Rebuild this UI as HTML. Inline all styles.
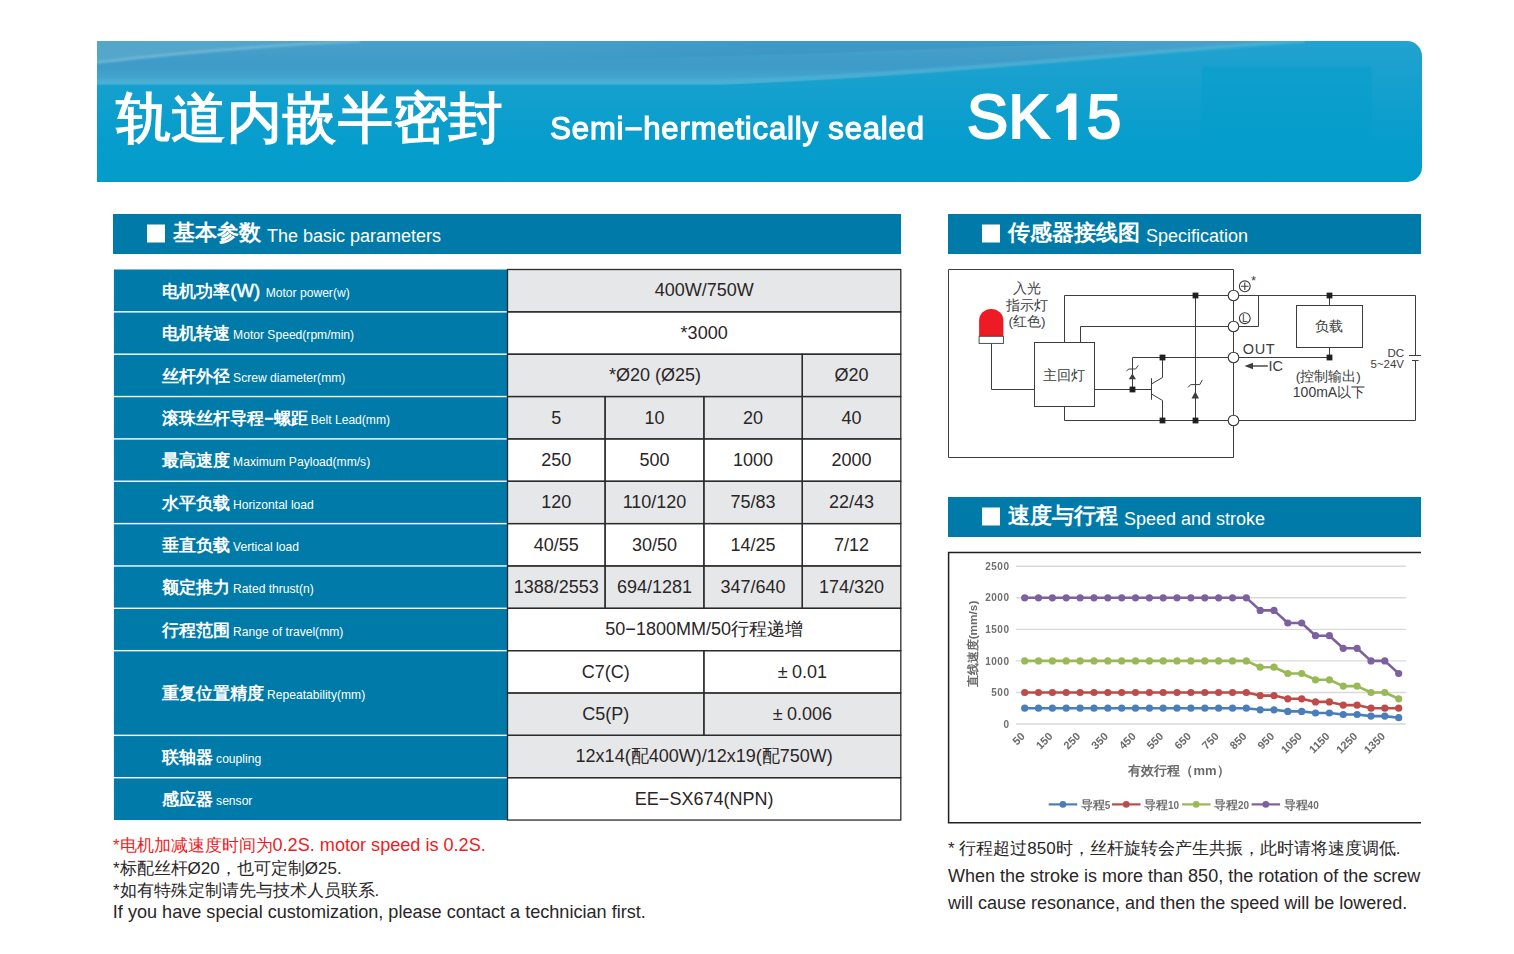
<!DOCTYPE html>
<html><head><meta charset="utf-8">
<style>
*{margin:0;padding:0}
html,body{width:1514px;height:954px;background:#fff;overflow:hidden}
body{position:relative;font-family:"Liberation Sans",sans-serif}
svg text{font-family:"Liberation Sans",sans-serif}
</style></head><body>
<svg width="1514" height="954" viewBox="0 0 1514 954" style="position:absolute;left:0;top:0">
<defs>
<linearGradient id="bg1" x1="0" y1="0" x2="0" y2="1">
<stop offset="0" stop-color="#1aa3cf"/><stop offset="0.4" stop-color="#079dcc"/><stop offset="1" stop-color="#019bcb"/>
</linearGradient>
<linearGradient id="band" x1="0" y1="0" x2="1" y2="0">
<stop offset="0" stop-color="#4fa6cb"/><stop offset="0.5" stop-color="#48a3ca"/><stop offset="1" stop-color="#3fa7cf"/>
</linearGradient>
<clipPath id="bclip"><path d="M97 41 H1407 A15 15 0 0 1 1422 56 V167 A15 15 0 0 1 1407 182 H97 Z"/></clipPath>
</defs>
<defs><linearGradient id="mg" x1="0" y1="41" x2="0" y2="182" gradientUnits="userSpaceOnUse"><stop offset="0" stop-color="#22a2cf"/><stop offset="0.35" stop-color="#14a0ce"/><stop offset="0.7" stop-color="#069dcc"/><stop offset="1" stop-color="#029ccb"/></linearGradient>
<linearGradient id="bd" x1="0" y1="41" x2="0" y2="84.5" gradientUnits="userSpaceOnUse"><stop offset="0" stop-color="#49a1c9"/><stop offset="0.45" stop-color="#3f9bc8"/><stop offset="0.65" stop-color="#3e9cc9"/><stop offset="0.8" stop-color="#43a3cd"/><stop offset="1" stop-color="#48acd3"/></linearGradient></defs>
<g clip-path="url(#bclip)">
<rect x="97" y="41" width="1325" height="141" fill="url(#mg)"/>
<path d="M97 41 H1305 C1150 52 950 76 720 84.5 L97 84.5 Z" fill="url(#bd)"/>
<defs><linearGradient id="dk" x1="500" y1="0" x2="1140" y2="0" gradientUnits="userSpaceOnUse"><stop offset="0" stop-color="#3894c4" stop-opacity="0"/><stop offset="0.4" stop-color="#3894c4" stop-opacity="0.6"/><stop offset="1" stop-color="#3894c4" stop-opacity="0.6"/></linearGradient></defs>
<path d="M500 41 H1140 C1000 46 850 53 700 57 C620 59 560 60 500 60 Z" fill="url(#dk)"/>
<defs><linearGradient id="tri" x1="97" y1="0" x2="360" y2="0" gradientUnits="userSpaceOnUse"><stop offset="0" stop-color="#55a7ca" stop-opacity="1"/><stop offset="0.7" stop-color="#55a7ca" stop-opacity="0.8"/><stop offset="1" stop-color="#55a7ca" stop-opacity="0.3"/></linearGradient>
<filter id="sb" x="-5%" y="-50%" width="110%" height="200%"><feGaussianBlur stdDeviation="0.8"/></filter></defs>
<path d="M97 41 H360 C270 46 180 53 97 63 Z" fill="url(#tri)"/>
<path d="M97 62.5 C180 52.5 270 45.5 360 41" fill="none" stroke="#74bbd9" stroke-width="2.6" opacity="0.8" filter="url(#sb)"/>
<path d="M97 82 H720 C950 73.5 1150 50 1305 41" fill="none" stroke="#4cb1d6" stroke-width="4" opacity="0.85" filter="url(#sb)"/>
<rect x="1201.5" y="66.5" width="170" height="91" rx="3" fill="#039dcc" opacity="0.5"/>
</g>
<rect x="113" y="214" width="788" height="40" fill="#007ba9"/>
<rect x="147" y="224.5" width="18" height="18" fill="#fff"/>
<text x="173" y="240.2" fill="#fff" font-size="22" font-weight="bold">基本参数<tspan font-weight="normal" font-size="18" dx="6" dy="1.4">The basic parameters</tspan></text>
<rect x="948" y="214" width="473" height="40" fill="#007ba9"/>
<rect x="982" y="224.5" width="18" height="18" fill="#fff"/>
<text x="1008" y="240.2" fill="#fff" font-size="22" font-weight="bold">传感器接线图<tspan font-weight="normal" font-size="18" dx="6" dy="1.4">Specification</tspan></text>
<rect x="948" y="497" width="473" height="40" fill="#007ba9"/>
<rect x="982" y="507.5" width="18" height="18" fill="#fff"/>
<text x="1008" y="523.2" fill="#fff" font-size="22" font-weight="bold">速度与行程<tspan font-weight="normal" font-size="18" dx="6" dy="1.4">Speed and stroke</tspan></text>
<rect x="113.9" y="269.50" width="393.60" height="41.65" fill="#007ba9"/>
<text x="162.3" y="296.88" fill="#fff" font-size="16.5" font-weight="bold">电机功率<tspan font-size="18.5" font-weight="normal" stroke="#fff" stroke-width="0.55">(W)</tspan><tspan font-weight="normal" font-size="12.1" dx="5.6">Motor power(w)</tspan></text>
<rect x="113.9" y="312.55" width="393.60" height="40.95" fill="#007ba9"/>
<text x="162.3" y="339.22" fill="#fff" font-size="16.5" font-weight="bold">电机转速<tspan font-weight="normal" font-size="12.1" dx="2.8">Motor Speed(rpm/min)</tspan></text>
<rect x="113.9" y="354.90" width="393.60" height="40.95" fill="#007ba9"/>
<text x="162.3" y="381.57" fill="#fff" font-size="16.5" font-weight="bold">丝杆外径<tspan font-weight="normal" font-size="12.1" dx="2.8">Screw diameter(mm)</tspan></text>
<rect x="113.9" y="397.25" width="393.60" height="40.95" fill="#007ba9"/>
<text x="162.3" y="423.93" fill="#fff" font-size="16.5" font-weight="bold">滚珠丝杆导程−螺距<tspan font-weight="normal" font-size="12.1" dx="2.8">Belt Lead(mm)</tspan></text>
<rect x="113.9" y="439.60" width="393.60" height="40.95" fill="#007ba9"/>
<text x="162.3" y="466.27" fill="#fff" font-size="16.5" font-weight="bold">最高速度<tspan font-weight="normal" font-size="12.1" dx="2.8">Maximum Payload(mm/s)</tspan></text>
<rect x="113.9" y="481.95" width="393.60" height="40.95" fill="#007ba9"/>
<text x="162.3" y="508.62" fill="#fff" font-size="16.5" font-weight="bold">水平负载<tspan font-weight="normal" font-size="12.1" dx="2.8">Horizontal load</tspan></text>
<rect x="113.9" y="524.30" width="393.60" height="40.95" fill="#007ba9"/>
<text x="162.3" y="550.98" fill="#fff" font-size="16.5" font-weight="bold">垂直负载<tspan font-weight="normal" font-size="12.1" dx="2.8">Vertical load</tspan></text>
<rect x="113.9" y="566.65" width="393.60" height="40.95" fill="#007ba9"/>
<text x="162.3" y="593.33" fill="#fff" font-size="16.5" font-weight="bold">额定推力<tspan font-weight="normal" font-size="12.1" dx="2.8">Rated thrust(n)</tspan></text>
<rect x="113.9" y="609.00" width="393.60" height="40.95" fill="#007ba9"/>
<text x="162.3" y="635.68" fill="#fff" font-size="16.5" font-weight="bold">行程范围<tspan font-weight="normal" font-size="12.1" dx="2.8">Range of travel(mm)</tspan></text>
<rect x="113.9" y="651.35" width="393.60" height="83.30" fill="#007ba9"/>
<text x="162.3" y="699.20" fill="#fff" font-size="16.5" font-weight="bold">重复位置精度<tspan font-weight="normal" font-size="12.1" dx="2.8">Repeatability(mm)</tspan></text>
<rect x="113.9" y="736.05" width="393.60" height="40.95" fill="#007ba9"/>
<text x="162.3" y="762.73" fill="#fff" font-size="16.5" font-weight="bold">联轴器<tspan font-weight="normal" font-size="12.1" dx="2.8">coupling</tspan></text>
<rect x="113.9" y="778.40" width="393.60" height="41.65" fill="#007ba9"/>
<text x="162.3" y="805.08" fill="#fff" font-size="16.5" font-weight="bold">感应器<tspan font-weight="normal" font-size="12.1" dx="2.8">sensor</tspan></text>
<rect x="507.50" y="269.50" width="393.30" height="42.35" fill="#e6e7e8"/>
<rect x="507.50" y="311.85" width="393.30" height="42.35" fill="#ffffff"/>
<rect x="507.50" y="354.20" width="294.80" height="42.35" fill="#e6e7e8"/>
<rect x="802.30" y="354.20" width="98.50" height="42.35" fill="#e6e7e8"/>
<rect x="507.50" y="396.55" width="97.60" height="42.35" fill="#e6e7e8"/>
<rect x="605.10" y="396.55" width="98.80" height="42.35" fill="#e6e7e8"/>
<rect x="703.90" y="396.55" width="98.40" height="42.35" fill="#e6e7e8"/>
<rect x="802.30" y="396.55" width="98.50" height="42.35" fill="#e6e7e8"/>
<rect x="507.50" y="438.90" width="97.60" height="42.35" fill="#ffffff"/>
<rect x="605.10" y="438.90" width="98.80" height="42.35" fill="#ffffff"/>
<rect x="703.90" y="438.90" width="98.40" height="42.35" fill="#ffffff"/>
<rect x="802.30" y="438.90" width="98.50" height="42.35" fill="#ffffff"/>
<rect x="507.50" y="481.25" width="97.60" height="42.35" fill="#e6e7e8"/>
<rect x="605.10" y="481.25" width="98.80" height="42.35" fill="#e6e7e8"/>
<rect x="703.90" y="481.25" width="98.40" height="42.35" fill="#e6e7e8"/>
<rect x="802.30" y="481.25" width="98.50" height="42.35" fill="#e6e7e8"/>
<rect x="507.50" y="523.60" width="97.60" height="42.35" fill="#ffffff"/>
<rect x="605.10" y="523.60" width="98.80" height="42.35" fill="#ffffff"/>
<rect x="703.90" y="523.60" width="98.40" height="42.35" fill="#ffffff"/>
<rect x="802.30" y="523.60" width="98.50" height="42.35" fill="#ffffff"/>
<rect x="507.50" y="565.95" width="97.60" height="42.35" fill="#e6e7e8"/>
<rect x="605.10" y="565.95" width="98.80" height="42.35" fill="#e6e7e8"/>
<rect x="703.90" y="565.95" width="98.40" height="42.35" fill="#e6e7e8"/>
<rect x="802.30" y="565.95" width="98.50" height="42.35" fill="#e6e7e8"/>
<rect x="507.50" y="608.30" width="393.30" height="42.35" fill="#ffffff"/>
<rect x="507.50" y="650.65" width="196.40" height="42.35" fill="#ffffff"/>
<rect x="703.90" y="650.65" width="196.90" height="42.35" fill="#ffffff"/>
<rect x="507.50" y="693.00" width="196.40" height="42.35" fill="#e6e7e8"/>
<rect x="703.90" y="693.00" width="196.90" height="42.35" fill="#e6e7e8"/>
<rect x="507.50" y="735.35" width="393.30" height="42.35" fill="#e6e7e8"/>
<rect x="507.50" y="777.70" width="393.30" height="42.35" fill="#ffffff"/>
<rect x="507.50" y="269.50" width="393.30" height="42.35" fill="none" stroke="#2b2b2b" stroke-width="1.3"/>
<text x="704.15" y="296.48" fill="#2a2627" font-size="18" text-anchor="middle">400W/750W</text>
<rect x="507.50" y="311.85" width="393.30" height="42.35" fill="none" stroke="#2b2b2b" stroke-width="1.3"/>
<text x="704.15" y="338.82" fill="#2a2627" font-size="18" text-anchor="middle">*3000</text>
<rect x="507.50" y="354.20" width="294.80" height="42.35" fill="none" stroke="#2b2b2b" stroke-width="1.3"/>
<text x="654.90" y="381.18" fill="#2a2627" font-size="18" text-anchor="middle">*Ø20 (Ø25)</text>
<rect x="802.30" y="354.20" width="98.50" height="42.35" fill="none" stroke="#2b2b2b" stroke-width="1.3"/>
<text x="851.55" y="381.18" fill="#2a2627" font-size="18" text-anchor="middle">Ø20</text>
<rect x="507.50" y="396.55" width="97.60" height="42.35" fill="none" stroke="#2b2b2b" stroke-width="1.3"/>
<text x="556.30" y="423.53" fill="#2a2627" font-size="18" text-anchor="middle">5</text>
<rect x="605.10" y="396.55" width="98.80" height="42.35" fill="none" stroke="#2b2b2b" stroke-width="1.3"/>
<text x="654.50" y="423.53" fill="#2a2627" font-size="18" text-anchor="middle">10</text>
<rect x="703.90" y="396.55" width="98.40" height="42.35" fill="none" stroke="#2b2b2b" stroke-width="1.3"/>
<text x="753.10" y="423.53" fill="#2a2627" font-size="18" text-anchor="middle">20</text>
<rect x="802.30" y="396.55" width="98.50" height="42.35" fill="none" stroke="#2b2b2b" stroke-width="1.3"/>
<text x="851.55" y="423.53" fill="#2a2627" font-size="18" text-anchor="middle">40</text>
<rect x="507.50" y="438.90" width="97.60" height="42.35" fill="none" stroke="#2b2b2b" stroke-width="1.3"/>
<text x="556.30" y="465.88" fill="#2a2627" font-size="18" text-anchor="middle">250</text>
<rect x="605.10" y="438.90" width="98.80" height="42.35" fill="none" stroke="#2b2b2b" stroke-width="1.3"/>
<text x="654.50" y="465.88" fill="#2a2627" font-size="18" text-anchor="middle">500</text>
<rect x="703.90" y="438.90" width="98.40" height="42.35" fill="none" stroke="#2b2b2b" stroke-width="1.3"/>
<text x="753.10" y="465.88" fill="#2a2627" font-size="18" text-anchor="middle">1000</text>
<rect x="802.30" y="438.90" width="98.50" height="42.35" fill="none" stroke="#2b2b2b" stroke-width="1.3"/>
<text x="851.55" y="465.88" fill="#2a2627" font-size="18" text-anchor="middle">2000</text>
<rect x="507.50" y="481.25" width="97.60" height="42.35" fill="none" stroke="#2b2b2b" stroke-width="1.3"/>
<text x="556.30" y="508.23" fill="#2a2627" font-size="18" text-anchor="middle">120</text>
<rect x="605.10" y="481.25" width="98.80" height="42.35" fill="none" stroke="#2b2b2b" stroke-width="1.3"/>
<text x="654.50" y="508.23" fill="#2a2627" font-size="18" text-anchor="middle">110/120</text>
<rect x="703.90" y="481.25" width="98.40" height="42.35" fill="none" stroke="#2b2b2b" stroke-width="1.3"/>
<text x="753.10" y="508.23" fill="#2a2627" font-size="18" text-anchor="middle">75/83</text>
<rect x="802.30" y="481.25" width="98.50" height="42.35" fill="none" stroke="#2b2b2b" stroke-width="1.3"/>
<text x="851.55" y="508.23" fill="#2a2627" font-size="18" text-anchor="middle">22/43</text>
<rect x="507.50" y="523.60" width="97.60" height="42.35" fill="none" stroke="#2b2b2b" stroke-width="1.3"/>
<text x="556.30" y="550.58" fill="#2a2627" font-size="18" text-anchor="middle">40/55</text>
<rect x="605.10" y="523.60" width="98.80" height="42.35" fill="none" stroke="#2b2b2b" stroke-width="1.3"/>
<text x="654.50" y="550.58" fill="#2a2627" font-size="18" text-anchor="middle">30/50</text>
<rect x="703.90" y="523.60" width="98.40" height="42.35" fill="none" stroke="#2b2b2b" stroke-width="1.3"/>
<text x="753.10" y="550.58" fill="#2a2627" font-size="18" text-anchor="middle">14/25</text>
<rect x="802.30" y="523.60" width="98.50" height="42.35" fill="none" stroke="#2b2b2b" stroke-width="1.3"/>
<text x="851.55" y="550.58" fill="#2a2627" font-size="18" text-anchor="middle">7/12</text>
<rect x="507.50" y="565.95" width="97.60" height="42.35" fill="none" stroke="#2b2b2b" stroke-width="1.3"/>
<text x="556.30" y="592.92" fill="#2a2627" font-size="18" text-anchor="middle">1388/2553</text>
<rect x="605.10" y="565.95" width="98.80" height="42.35" fill="none" stroke="#2b2b2b" stroke-width="1.3"/>
<text x="654.50" y="592.92" fill="#2a2627" font-size="18" text-anchor="middle">694/1281</text>
<rect x="703.90" y="565.95" width="98.40" height="42.35" fill="none" stroke="#2b2b2b" stroke-width="1.3"/>
<text x="753.10" y="592.92" fill="#2a2627" font-size="18" text-anchor="middle">347/640</text>
<rect x="802.30" y="565.95" width="98.50" height="42.35" fill="none" stroke="#2b2b2b" stroke-width="1.3"/>
<text x="851.55" y="592.92" fill="#2a2627" font-size="18" text-anchor="middle">174/320</text>
<rect x="507.50" y="608.30" width="393.30" height="42.35" fill="none" stroke="#2b2b2b" stroke-width="1.3"/>
<text x="704.15" y="635.27" fill="#2a2627" font-size="18" text-anchor="middle">50−1800MM/50行程递增</text>
<rect x="507.50" y="650.65" width="196.40" height="42.35" fill="none" stroke="#2b2b2b" stroke-width="1.3"/>
<text x="605.70" y="677.62" fill="#2a2627" font-size="18" text-anchor="middle">C7(C)</text>
<rect x="703.90" y="650.65" width="196.90" height="42.35" fill="none" stroke="#2b2b2b" stroke-width="1.3"/>
<text x="802.35" y="677.62" fill="#2a2627" font-size="18" text-anchor="middle">±<tspan dx="4.4">0.01</tspan></text>
<rect x="507.50" y="693.00" width="196.40" height="42.35" fill="none" stroke="#2b2b2b" stroke-width="1.3"/>
<text x="605.70" y="719.97" fill="#2a2627" font-size="18" text-anchor="middle">C5(P)</text>
<rect x="703.90" y="693.00" width="196.90" height="42.35" fill="none" stroke="#2b2b2b" stroke-width="1.3"/>
<text x="802.35" y="719.97" fill="#2a2627" font-size="18" text-anchor="middle">±<tspan dx="4.4">0.006</tspan></text>
<rect x="507.50" y="735.35" width="393.30" height="42.35" fill="none" stroke="#2b2b2b" stroke-width="1.3"/>
<text x="704.15" y="762.33" fill="#2a2627" font-size="18" text-anchor="middle">12x14(配400W)/12x19(配750W)</text>
<rect x="507.50" y="777.70" width="393.30" height="42.35" fill="none" stroke="#2b2b2b" stroke-width="1.3"/>
<text x="704.15" y="804.67" fill="#2a2627" font-size="18" text-anchor="middle">EE−SX674(NPN)</text>
<text x="113" y="851.4" fill="#ed1c24" font-size="16.8">*电机加减速度时间为<tspan font-size="18.1">0.2S. motor speed is 0.2S.</tspan></text>
<text x="113" y="873.6" fill="#2a2627" font-size="17">*标配丝杆Ø20，也可定制Ø25.</text>
<text x="113" y="895.8" fill="#2a2627" font-size="16.8">*如有特殊定制请先与技术人员联系.</text>
<text x="112.8" y="918.3" fill="#2a2627" font-size="18.1">If you have special customization, please contact a technician first.</text>
<text x="948" y="854.3" fill="#2a2627" font-size="17">* 行程超过850时，丝杆旋转会产生共振，此时请将速度调低.</text>
<text x="948" y="881.8" fill="#2a2627" font-size="18">When the stroke is more than 850, the rotation of the screw</text>
<text x="948" y="909.3" fill="#2a2627" font-size="18">will cause resonance, and then the speed will be lowered.</text>
<g fill="none" stroke="#3d3d3f" stroke-width="1.0">
<path d="M948.5 269.5 H1233.5 V457.5 H948.5 Z"/>
<path d="M991.5 343.4 V389.5 H1034.5"/>
<rect x="1034.5" y="342.5" width="60" height="64"/>
<path d="M1064.5 342.5 V295.5 H1233.5"/>
<path d="M1080.5 342.5 V326.5 H1233.5"/>
<path d="M1064.5 406.5 V420.5 H1233.5"/>
<path d="M1094.5 389.5 H1151.5"/>
<path d="M1132.5 389.5 V357.5 H1233.5"/>
<path d="M1151.5 378.2 V399.7"/>
<path d="M1151.5 384 L1162.5 377.5 V357.5"/>
<path d="M1151.5 394 L1162.5 400.5 V420.5"/>
<path d="M1195.5 295.5 V420.5"/>
<path d="M1233.5 295.5 H1258.5 V326.5 H1233.5"/>
<path d="M1233.5 295.5 H1415.5 V355.2"/>
<path d="M1415.5 360.2 V420.5 H1233.5"/>
<path d="M1409 355.5 H1421"/>
<path d="M1412 360.5 H1418.6"/>
<rect x="1296.5" y="305.5" width="66" height="42"/>
<path d="M1329.5 295.5 V305.5"/>
<path d="M1329.5 347.5 V357.5 H1233.5"/>
<path d="M1126.5 370.9 L1128.9 369 H1135.6 L1138.3 365.3"/>
<path d="M1188.1 387.4 L1190.6 384.6 H1199.8 L1202.3 379.9"/>
</g>
<path d="M1132.4 373.4 L1136 379.2 H1128.8 Z" fill="#3d3d3f"/>
<path d="M1195.3 391.4 L1199.1 398.4 H1191.5 Z" fill="#3d3d3f"/>
<path d="M1250 366 H1267.8" stroke="#3d3d3f" stroke-width="1.4"/>
<path d="M1244.5 366 L1253 362.8 V369.2 Z" fill="#3d3d3f"/>
<rect x="1129.6" y="386.6" width="5.8" height="5.8" fill="#231f20"/>
<rect x="1159.6" y="354.6" width="5.8" height="5.8" fill="#231f20"/>
<rect x="1159.6" y="417.6" width="5.8" height="5.8" fill="#231f20"/>
<rect x="1192.6" y="292.6" width="5.8" height="5.8" fill="#231f20"/>
<rect x="1192.6" y="417.6" width="5.8" height="5.8" fill="#231f20"/>
<rect x="1326.6" y="292.6" width="5.8" height="5.8" fill="#231f20"/>
<rect x="1326.6" y="354.6" width="5.8" height="5.8" fill="#231f20"/>
<circle cx="1233.5" cy="295.5" r="5.3" fill="#fff" stroke="#3d3d3f" stroke-width="1.1"/>
<circle cx="1233.5" cy="326.5" r="5.3" fill="#fff" stroke="#3d3d3f" stroke-width="1.1"/>
<circle cx="1233.5" cy="357.5" r="5.3" fill="#fff" stroke="#3d3d3f" stroke-width="1.1"/>
<circle cx="1233.5" cy="420.5" r="5.3" fill="#fff" stroke="#3d3d3f" stroke-width="1.1"/>
<circle cx="1244.8" cy="286.3" r="5.4" fill="none" stroke="#3d3d3f" stroke-width="1.1"/>
<path d="M1241 286.3 H1248.6 M1244.8 282.5 V290.1" stroke="#3d3d3f" stroke-width="1.1"/>
<circle cx="1244.8" cy="318.2" r="5.4" fill="none" stroke="#3d3d3f" stroke-width="1.1"/>
<text x="1245" y="322" font-size="10.5" fill="#3d3d3f" text-anchor="middle">L</text>
<text x="1253.6" y="284.5" font-size="13" fill="#3d3d3f" text-anchor="middle">*</text>
<path d="M979.1 336.3 V320.5 A12.15 11.5 0 0 1 1003.4 320.5 V336.3 Z" fill="#ed1c24"/>
<rect x="979.1" y="336.3" width="24.3" height="7.1" fill="#fff" stroke="#3d3d3f" stroke-width="0.9"/>
<text x="1027" y="292.5" font-size="13.5" fill="#3c3c3e" text-anchor="middle">入光</text>
<text x="1027" y="309.5" font-size="13.5" fill="#3c3c3e" text-anchor="middle">指示灯</text>
<text x="1027" y="325.8" font-size="13.5" fill="#3c3c3e" text-anchor="middle">(红色)</text>
<text x="1064.2" y="379.5" font-size="13.5" fill="#3c3c3e" text-anchor="middle">主回灯</text>
<text x="1329.4" y="330.8" font-size="13.5" fill="#3c3c3e" text-anchor="middle">负载</text>
<text x="1242.8" y="353.5" font-size="14.5" letter-spacing="0.6" fill="#3c3c3e">OUT</text>
<text x="1268.5" y="371.4" font-size="14.5" fill="#3c3c3e">IC</text>
<text x="1328.3" y="380.8" font-size="13.5" fill="#3c3c3e" text-anchor="middle">(控制输出)</text>
<text x="1329" y="397.3" font-size="14" fill="#3c3c3e" text-anchor="middle">100mA以下</text>
<text x="1404" y="356.7" font-size="11.5" fill="#3c3c3e" text-anchor="end">DC</text>
<text x="1404" y="367.5" font-size="11.5" fill="#3c3c3e" text-anchor="end">5~24V</text>
<defs><filter id="blr" x="-5%" y="-5%" width="110%" height="110%"><feGaussianBlur stdDeviation="0.75"/></filter></defs>
<g filter="url(#blr)">
<path d="M1016 724.0 H1406" stroke="#d9d9d9" stroke-width="1.4"/>
<text x="1009.5" y="727.6" font-size="10" letter-spacing="0.5" font-weight="bold" fill="#707070" text-anchor="end">0</text>
<path d="M1016 692.5 H1406" stroke="#d9d9d9" stroke-width="1.4"/>
<text x="1009.5" y="696.1" font-size="10" letter-spacing="0.5" font-weight="bold" fill="#707070" text-anchor="end">500</text>
<path d="M1016 660.9 H1406" stroke="#d9d9d9" stroke-width="1.4"/>
<text x="1009.5" y="664.5" font-size="10" letter-spacing="0.5" font-weight="bold" fill="#707070" text-anchor="end">1000</text>
<path d="M1016 629.4 H1406" stroke="#d9d9d9" stroke-width="1.4"/>
<text x="1009.5" y="633.0" font-size="10" letter-spacing="0.5" font-weight="bold" fill="#707070" text-anchor="end">1500</text>
<path d="M1016 597.8 H1406" stroke="#d9d9d9" stroke-width="1.4"/>
<text x="1009.5" y="601.4" font-size="10" letter-spacing="0.5" font-weight="bold" fill="#707070" text-anchor="end">2000</text>
<path d="M1016 566.2 H1406" stroke="#d9d9d9" stroke-width="1.4"/>
<text x="1009.5" y="569.9" font-size="10" letter-spacing="0.5" font-weight="bold" fill="#707070" text-anchor="end">2500</text>
<polyline points="1024.7,708.2 1038.5,708.2 1052.4,708.2 1066.2,708.2 1080.1,708.2 1094.0,708.2 1107.8,708.2 1121.7,708.2 1135.5,708.2 1149.4,708.2 1163.2,708.2 1177.0,708.2 1190.9,708.2 1204.8,708.2 1218.6,708.2 1232.5,708.2 1246.3,708.2 1260.2,709.8 1274.0,709.8 1287.8,711.4 1301.7,711.4 1315.5,713.0 1329.4,713.0 1343.2,714.5 1357.1,714.5 1371.0,716.1 1384.8,716.1 1398.7,717.7" fill="none" stroke="#4a7ebb" stroke-width="2.6" stroke-linejoin="round"/>
<circle cx="1024.7" cy="708.2" r="3.6" fill="#4a7ebb"/>
<circle cx="1038.5" cy="708.2" r="3.6" fill="#4a7ebb"/>
<circle cx="1052.4" cy="708.2" r="3.6" fill="#4a7ebb"/>
<circle cx="1066.2" cy="708.2" r="3.6" fill="#4a7ebb"/>
<circle cx="1080.1" cy="708.2" r="3.6" fill="#4a7ebb"/>
<circle cx="1094.0" cy="708.2" r="3.6" fill="#4a7ebb"/>
<circle cx="1107.8" cy="708.2" r="3.6" fill="#4a7ebb"/>
<circle cx="1121.7" cy="708.2" r="3.6" fill="#4a7ebb"/>
<circle cx="1135.5" cy="708.2" r="3.6" fill="#4a7ebb"/>
<circle cx="1149.4" cy="708.2" r="3.6" fill="#4a7ebb"/>
<circle cx="1163.2" cy="708.2" r="3.6" fill="#4a7ebb"/>
<circle cx="1177.0" cy="708.2" r="3.6" fill="#4a7ebb"/>
<circle cx="1190.9" cy="708.2" r="3.6" fill="#4a7ebb"/>
<circle cx="1204.8" cy="708.2" r="3.6" fill="#4a7ebb"/>
<circle cx="1218.6" cy="708.2" r="3.6" fill="#4a7ebb"/>
<circle cx="1232.5" cy="708.2" r="3.6" fill="#4a7ebb"/>
<circle cx="1246.3" cy="708.2" r="3.6" fill="#4a7ebb"/>
<circle cx="1260.2" cy="709.8" r="3.6" fill="#4a7ebb"/>
<circle cx="1274.0" cy="709.8" r="3.6" fill="#4a7ebb"/>
<circle cx="1287.8" cy="711.4" r="3.6" fill="#4a7ebb"/>
<circle cx="1301.7" cy="711.4" r="3.6" fill="#4a7ebb"/>
<circle cx="1315.5" cy="713.0" r="3.6" fill="#4a7ebb"/>
<circle cx="1329.4" cy="713.0" r="3.6" fill="#4a7ebb"/>
<circle cx="1343.2" cy="714.5" r="3.6" fill="#4a7ebb"/>
<circle cx="1357.1" cy="714.5" r="3.6" fill="#4a7ebb"/>
<circle cx="1371.0" cy="716.1" r="3.6" fill="#4a7ebb"/>
<circle cx="1384.8" cy="716.1" r="3.6" fill="#4a7ebb"/>
<circle cx="1398.7" cy="717.7" r="3.6" fill="#4a7ebb"/>
<polyline points="1024.7,692.5 1038.5,692.5 1052.4,692.5 1066.2,692.5 1080.1,692.5 1094.0,692.5 1107.8,692.5 1121.7,692.5 1135.5,692.5 1149.4,692.5 1163.2,692.5 1177.0,692.5 1190.9,692.5 1204.8,692.5 1218.6,692.5 1232.5,692.5 1246.3,692.5 1260.2,695.6 1274.0,695.6 1287.8,698.8 1301.7,698.8 1315.5,701.9 1329.4,701.9 1343.2,705.1 1357.1,705.1 1371.0,708.2 1384.8,708.2 1398.7,708.2" fill="none" stroke="#be4b48" stroke-width="2.6" stroke-linejoin="round"/>
<circle cx="1024.7" cy="692.5" r="3.6" fill="#be4b48"/>
<circle cx="1038.5" cy="692.5" r="3.6" fill="#be4b48"/>
<circle cx="1052.4" cy="692.5" r="3.6" fill="#be4b48"/>
<circle cx="1066.2" cy="692.5" r="3.6" fill="#be4b48"/>
<circle cx="1080.1" cy="692.5" r="3.6" fill="#be4b48"/>
<circle cx="1094.0" cy="692.5" r="3.6" fill="#be4b48"/>
<circle cx="1107.8" cy="692.5" r="3.6" fill="#be4b48"/>
<circle cx="1121.7" cy="692.5" r="3.6" fill="#be4b48"/>
<circle cx="1135.5" cy="692.5" r="3.6" fill="#be4b48"/>
<circle cx="1149.4" cy="692.5" r="3.6" fill="#be4b48"/>
<circle cx="1163.2" cy="692.5" r="3.6" fill="#be4b48"/>
<circle cx="1177.0" cy="692.5" r="3.6" fill="#be4b48"/>
<circle cx="1190.9" cy="692.5" r="3.6" fill="#be4b48"/>
<circle cx="1204.8" cy="692.5" r="3.6" fill="#be4b48"/>
<circle cx="1218.6" cy="692.5" r="3.6" fill="#be4b48"/>
<circle cx="1232.5" cy="692.5" r="3.6" fill="#be4b48"/>
<circle cx="1246.3" cy="692.5" r="3.6" fill="#be4b48"/>
<circle cx="1260.2" cy="695.6" r="3.6" fill="#be4b48"/>
<circle cx="1274.0" cy="695.6" r="3.6" fill="#be4b48"/>
<circle cx="1287.8" cy="698.8" r="3.6" fill="#be4b48"/>
<circle cx="1301.7" cy="698.8" r="3.6" fill="#be4b48"/>
<circle cx="1315.5" cy="701.9" r="3.6" fill="#be4b48"/>
<circle cx="1329.4" cy="701.9" r="3.6" fill="#be4b48"/>
<circle cx="1343.2" cy="705.1" r="3.6" fill="#be4b48"/>
<circle cx="1357.1" cy="705.1" r="3.6" fill="#be4b48"/>
<circle cx="1371.0" cy="708.2" r="3.6" fill="#be4b48"/>
<circle cx="1384.8" cy="708.2" r="3.6" fill="#be4b48"/>
<circle cx="1398.7" cy="708.2" r="3.6" fill="#be4b48"/>
<polyline points="1024.7,660.9 1038.5,660.9 1052.4,660.9 1066.2,660.9 1080.1,660.9 1094.0,660.9 1107.8,660.9 1121.7,660.9 1135.5,660.9 1149.4,660.9 1163.2,660.9 1177.0,660.9 1190.9,660.9 1204.8,660.9 1218.6,660.9 1232.5,660.9 1246.3,660.9 1260.2,667.2 1274.0,667.2 1287.8,673.5 1301.7,673.5 1315.5,679.8 1329.4,679.8 1343.2,686.1 1357.1,686.1 1371.0,692.5 1384.8,692.5 1398.7,698.8" fill="none" stroke="#98b954" stroke-width="2.6" stroke-linejoin="round"/>
<circle cx="1024.7" cy="660.9" r="3.6" fill="#98b954"/>
<circle cx="1038.5" cy="660.9" r="3.6" fill="#98b954"/>
<circle cx="1052.4" cy="660.9" r="3.6" fill="#98b954"/>
<circle cx="1066.2" cy="660.9" r="3.6" fill="#98b954"/>
<circle cx="1080.1" cy="660.9" r="3.6" fill="#98b954"/>
<circle cx="1094.0" cy="660.9" r="3.6" fill="#98b954"/>
<circle cx="1107.8" cy="660.9" r="3.6" fill="#98b954"/>
<circle cx="1121.7" cy="660.9" r="3.6" fill="#98b954"/>
<circle cx="1135.5" cy="660.9" r="3.6" fill="#98b954"/>
<circle cx="1149.4" cy="660.9" r="3.6" fill="#98b954"/>
<circle cx="1163.2" cy="660.9" r="3.6" fill="#98b954"/>
<circle cx="1177.0" cy="660.9" r="3.6" fill="#98b954"/>
<circle cx="1190.9" cy="660.9" r="3.6" fill="#98b954"/>
<circle cx="1204.8" cy="660.9" r="3.6" fill="#98b954"/>
<circle cx="1218.6" cy="660.9" r="3.6" fill="#98b954"/>
<circle cx="1232.5" cy="660.9" r="3.6" fill="#98b954"/>
<circle cx="1246.3" cy="660.9" r="3.6" fill="#98b954"/>
<circle cx="1260.2" cy="667.2" r="3.6" fill="#98b954"/>
<circle cx="1274.0" cy="667.2" r="3.6" fill="#98b954"/>
<circle cx="1287.8" cy="673.5" r="3.6" fill="#98b954"/>
<circle cx="1301.7" cy="673.5" r="3.6" fill="#98b954"/>
<circle cx="1315.5" cy="679.8" r="3.6" fill="#98b954"/>
<circle cx="1329.4" cy="679.8" r="3.6" fill="#98b954"/>
<circle cx="1343.2" cy="686.1" r="3.6" fill="#98b954"/>
<circle cx="1357.1" cy="686.1" r="3.6" fill="#98b954"/>
<circle cx="1371.0" cy="692.5" r="3.6" fill="#98b954"/>
<circle cx="1384.8" cy="692.5" r="3.6" fill="#98b954"/>
<circle cx="1398.7" cy="698.8" r="3.6" fill="#98b954"/>
<polyline points="1024.7,597.8 1038.5,597.8 1052.4,597.8 1066.2,597.8 1080.1,597.8 1094.0,597.8 1107.8,597.8 1121.7,597.8 1135.5,597.8 1149.4,597.8 1163.2,597.8 1177.0,597.8 1190.9,597.8 1204.8,597.8 1218.6,597.8 1232.5,597.8 1246.3,597.8 1260.2,610.4 1274.0,610.4 1287.8,623.0 1301.7,623.0 1315.5,635.7 1329.4,635.7 1343.2,648.3 1357.1,648.3 1371.0,660.9 1384.8,660.9 1398.7,673.5" fill="none" stroke="#7d60a0" stroke-width="2.6" stroke-linejoin="round"/>
<circle cx="1024.7" cy="597.8" r="3.6" fill="#7d60a0"/>
<circle cx="1038.5" cy="597.8" r="3.6" fill="#7d60a0"/>
<circle cx="1052.4" cy="597.8" r="3.6" fill="#7d60a0"/>
<circle cx="1066.2" cy="597.8" r="3.6" fill="#7d60a0"/>
<circle cx="1080.1" cy="597.8" r="3.6" fill="#7d60a0"/>
<circle cx="1094.0" cy="597.8" r="3.6" fill="#7d60a0"/>
<circle cx="1107.8" cy="597.8" r="3.6" fill="#7d60a0"/>
<circle cx="1121.7" cy="597.8" r="3.6" fill="#7d60a0"/>
<circle cx="1135.5" cy="597.8" r="3.6" fill="#7d60a0"/>
<circle cx="1149.4" cy="597.8" r="3.6" fill="#7d60a0"/>
<circle cx="1163.2" cy="597.8" r="3.6" fill="#7d60a0"/>
<circle cx="1177.0" cy="597.8" r="3.6" fill="#7d60a0"/>
<circle cx="1190.9" cy="597.8" r="3.6" fill="#7d60a0"/>
<circle cx="1204.8" cy="597.8" r="3.6" fill="#7d60a0"/>
<circle cx="1218.6" cy="597.8" r="3.6" fill="#7d60a0"/>
<circle cx="1232.5" cy="597.8" r="3.6" fill="#7d60a0"/>
<circle cx="1246.3" cy="597.8" r="3.6" fill="#7d60a0"/>
<circle cx="1260.2" cy="610.4" r="3.6" fill="#7d60a0"/>
<circle cx="1274.0" cy="610.4" r="3.6" fill="#7d60a0"/>
<circle cx="1287.8" cy="623.0" r="3.6" fill="#7d60a0"/>
<circle cx="1301.7" cy="623.0" r="3.6" fill="#7d60a0"/>
<circle cx="1315.5" cy="635.7" r="3.6" fill="#7d60a0"/>
<circle cx="1329.4" cy="635.7" r="3.6" fill="#7d60a0"/>
<circle cx="1343.2" cy="648.3" r="3.6" fill="#7d60a0"/>
<circle cx="1357.1" cy="648.3" r="3.6" fill="#7d60a0"/>
<circle cx="1371.0" cy="660.9" r="3.6" fill="#7d60a0"/>
<circle cx="1384.8" cy="660.9" r="3.6" fill="#7d60a0"/>
<circle cx="1398.7" cy="673.5" r="3.6" fill="#7d60a0"/>
<text transform="translate(1025.7,737) rotate(-45)" font-size="11" font-weight="bold" fill="#6b6b6b" text-anchor="end" dy="0">50</text>
<text transform="translate(1053.4,737) rotate(-45)" font-size="11" font-weight="bold" fill="#6b6b6b" text-anchor="end" dy="0">150</text>
<text transform="translate(1081.1,737) rotate(-45)" font-size="11" font-weight="bold" fill="#6b6b6b" text-anchor="end" dy="0">250</text>
<text transform="translate(1108.8,737) rotate(-45)" font-size="11" font-weight="bold" fill="#6b6b6b" text-anchor="end" dy="0">350</text>
<text transform="translate(1136.5,737) rotate(-45)" font-size="11" font-weight="bold" fill="#6b6b6b" text-anchor="end" dy="0">450</text>
<text transform="translate(1164.2,737) rotate(-45)" font-size="11" font-weight="bold" fill="#6b6b6b" text-anchor="end" dy="0">550</text>
<text transform="translate(1191.9,737) rotate(-45)" font-size="11" font-weight="bold" fill="#6b6b6b" text-anchor="end" dy="0">650</text>
<text transform="translate(1219.6,737) rotate(-45)" font-size="11" font-weight="bold" fill="#6b6b6b" text-anchor="end" dy="0">750</text>
<text transform="translate(1247.3,737) rotate(-45)" font-size="11" font-weight="bold" fill="#6b6b6b" text-anchor="end" dy="0">850</text>
<text transform="translate(1275.0,737) rotate(-45)" font-size="11" font-weight="bold" fill="#6b6b6b" text-anchor="end" dy="0">950</text>
<text transform="translate(1302.7,737) rotate(-45)" font-size="11" font-weight="bold" fill="#6b6b6b" text-anchor="end" dy="0">1050</text>
<text transform="translate(1330.4,737) rotate(-45)" font-size="11" font-weight="bold" fill="#6b6b6b" text-anchor="end" dy="0">1150</text>
<text transform="translate(1358.1,737) rotate(-45)" font-size="11" font-weight="bold" fill="#6b6b6b" text-anchor="end" dy="0">1250</text>
<text transform="translate(1385.8,737) rotate(-45)" font-size="11" font-weight="bold" fill="#6b6b6b" text-anchor="end" dy="0">1350</text>
<text transform="translate(976.5,644) rotate(-90)" font-size="11.8" font-weight="bold" fill="#6b6b6b" text-anchor="middle">直线速度(mm/s)</text>
<text x="1179" y="775" font-size="13" font-weight="bold" fill="#6b6b6b" text-anchor="middle">有效行程（mm）</text>
<path d="M1048.7 804.4 H1077.2" stroke="#4a7ebb" stroke-width="2.2"/>
<circle cx="1062.9" cy="804.4" r="3.3" fill="#4a7ebb"/>
<text x="1080.7" y="808.6" font-size="11.5" font-weight="bold" fill="#707070">导程<tspan font-size="10">5</tspan></text>
<path d="M1112 804.4 H1140.5" stroke="#be4b48" stroke-width="2.2"/>
<circle cx="1126.2" cy="804.4" r="3.3" fill="#be4b48"/>
<text x="1144" y="808.6" font-size="11.5" font-weight="bold" fill="#707070">导程<tspan font-size="10">10</tspan></text>
<path d="M1182 804.4 H1210.5" stroke="#98b954" stroke-width="2.2"/>
<circle cx="1196.2" cy="804.4" r="3.3" fill="#98b954"/>
<text x="1214" y="808.6" font-size="11.5" font-weight="bold" fill="#707070">导程<tspan font-size="10">20</tspan></text>
<path d="M1251.6 804.4 H1280.1" stroke="#7d60a0" stroke-width="2.2"/>
<circle cx="1265.8" cy="804.4" r="3.3" fill="#7d60a0"/>
<text x="1283.6" y="808.6" font-size="11.5" font-weight="bold" fill="#707070">导程<tspan font-size="10">40</tspan></text>
</g>
<path d="M1421 552.6 H948.6 V822.8 H1421" fill="none" stroke="#231f20" stroke-width="1.5"/>
<text x="116" y="136.6" fill="#fff" stroke="#fff" stroke-width="1.5" font-size="55" letter-spacing="0.4">轨道内嵌半密封</text>
<text x="550.3" y="138.6" fill="#fff" stroke="#fff" stroke-width="1.25" font-size="31" letter-spacing="0.85">Semi−hermetically sealed</text>
<text x="966.7" y="138.2" fill="#fff" stroke="#fff" stroke-width="2" font-size="62.2">SK</text>
<text x="1086.8" y="138.2" fill="#fff" stroke="#fff" stroke-width="2" font-size="62.2">5</text>
<path d="M1075.6 94.3 V139.1 H1068.8 V106.5 C1065.5 109.5 1061.5 111.2 1057.2 112 V106 C1062.5 104.5 1066.5 100 1068.8 94.3 Z" fill="#fff" stroke="#fff" stroke-width="1.6" stroke-linejoin="round"/>
</svg>
</body></html>
